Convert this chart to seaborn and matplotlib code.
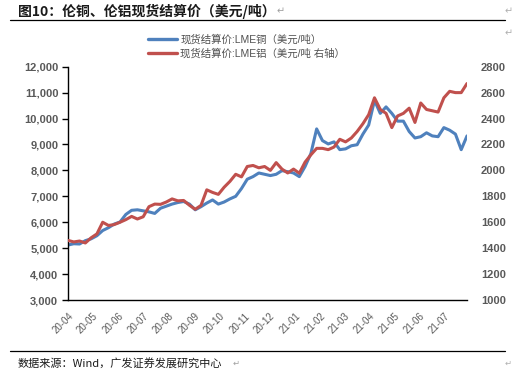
import numpy as np
import pandas as pd
import seaborn as sns
import matplotlib.pyplot as plt
from matplotlib.lines import Line2D

# weekly readings
dates = pd.date_range("2020-04-01", periods=70, freq="7D")

copper = [5120, 5170, 5160, 5290, 5360, 5480, 5680, 5790, 5930, 6010,
          6300, 6460, 6480, 6440, 6400, 6340, 6540, 6620, 6700, 6760,
          6800, 6700, 6480, 6600, 6740, 6860, 6700, 6780, 6900, 7000,
          7300, 7660, 7760, 7900, 7850, 7800, 7850, 7990, 7950, 7900,
          7760, 8150, 8650, 9600, 9150, 9020, 9100, 8800, 8830, 8950,
          8990, 9400, 9750, 10700, 10200, 10450, 10200, 9900, 9900, 9500,
          9250, 9300, 9450, 9330, 9300, 9650, 9550, 9400, 8800, 9330]

aluminium = [1460, 1448, 1455, 1440, 1480, 1510, 1600, 1575, 1582, 1600,
             1620, 1645, 1625, 1642, 1720, 1740, 1738, 1756, 1780, 1765,
             1768, 1731, 1700, 1730, 1850, 1830, 1815, 1870, 1915, 1970,
             1950, 2030, 2038, 2020, 2030, 2000, 2060, 2010, 1980, 2010,
             1978, 2064, 2120, 2170, 2170, 2160, 2180, 2240, 2220, 2250,
             2300, 2360, 2430, 2560, 2470, 2440, 2330, 2420, 2440, 2480,
             2370, 2520, 2470, 2460, 2450, 2560, 2610, 2600, 2600, 2670]

month_ticks = pd.date_range("2020-04-01", "2021-07-01", freq="MS")
month_labels = [d.strftime("%y-%m") for d in month_ticks]

cu_label = "现货结算价:LME铜（美元/吨）"
al_label = "现货结算价:LME铝（美元/吨 右轴）"
title = "图10：伦铜、伦铝现货结算价（美元/吨）"
source = "数据来源：Wind，广发证券发展研究中心"

blue = "#4F81BD"
red = "#C0504D"
grey = "#595959"

sns.set_theme(style="white")
plt.rcParams["font.family"] = ["Liberation Sans", "Noto Sans CJK SC", "DejaVu Sans"]

df = pd.DataFrame({"date": dates, "cu": copper, "al": aluminium})

fig = plt.figure(figsize=(5.14, 3.78), dpi=100)
ax = fig.add_axes([68 / 514, 1 - 300 / 378, 399 / 514, 233.3 / 378])
ax2 = ax.twinx()

sns.lineplot(data=df, x="date", y="cu", ax=ax, color=blue, lw=2.2, label=cu_label, legend=False)
sns.lineplot(data=df, x="date", y="al", ax=ax2, color=red, lw=2.2, label=al_label, legend=False)

ax.set_xlim(dates[0], dates[-1])
ax.set_ylim(3000, 12000)
ax2.set_ylim(1000, 2800)
ax.set_yticks(np.arange(3000, 12001, 1000))
ax.set_yticklabels([f"{v:,}" for v in range(3000, 12001, 1000)])
ax2.set_yticks(np.arange(1000, 2801, 200))
ax.set_xticks(month_ticks)
ax.set_xticklabels(month_labels, rotation=45, ha="right", rotation_mode="anchor")
ax.set_xlabel("")
ax.set_ylabel("")
ax2.set_ylabel("")

for s in ["top", "right"]:
    ax.spines[s].set_visible(False)
for s in ["top", "right", "left", "bottom"]:
    ax2.spines[s].set_visible(False)
ax.spines["left"].set_color("black")
ax.spines["bottom"].set_color("black")
ax.spines["left"].set_linewidth(1.0)
ax.spines["bottom"].set_linewidth(1.0)

ax.tick_params(axis="y", direction="out", length=4, width=1, color="black",
               labelsize=8, labelcolor=grey, pad=3)
ax.tick_params(axis="x", direction="out", length=4, width=1, color="black",
               labelsize=7, labelcolor=grey, pad=4)
ax2.tick_params(axis="y", length=0, labelsize=8, labelcolor=grey, pad=10)
for t in ax.get_yticklabels() + ax2.get_yticklabels():
    t.set_fontweight("bold")

handles = [Line2D([], [], color=blue, lw=2.4), Line2D([], [], color=red, lw=2.4)]
fig.legend(handles, [cu_label, al_label], loc="upper left",
           bbox_to_anchor=(148 / 514, 1 - 34 / 378), frameon=False,
           fontsize=7.5, labelcolor="#505050", handlelength=2.8,
           handletextpad=0.3, labelspacing=0.35, borderaxespad=0, borderpad=0)

fig.text(18 / 514, 1 - 11 / 378, title, fontsize=10, fontweight="bold",
         color="#1a1a1a", va="center", family=["Noto Sans CJK SC", "DejaVu Sans"])
fig.text(277 / 514, 1 - 11 / 378, "↵", fontsize=7, color="#a0a0a0", va="center",
         family=["DejaVu Sans"])
fig.text(505 / 514, 1 - 11 / 378, "↵", fontsize=7, color="#b0b0b0", va="center",
         family=["DejaVu Sans"])
fig.text(505 / 514, 1 - 33 / 378, "↵", fontsize=7, color="#b0b0b0", va="center",
         family=["DejaVu Sans"])
fig.text(18 / 514, 1 - 363 / 378, source, fontsize=8, color="#1a1a1a", va="center",
         family=["Noto Sans CJK SC", "DejaVu Sans"])
fig.text(233 / 514, 1 - 363 / 378, "↵", fontsize=6, color="#a0a0a0", va="center",
         family=["DejaVu Sans"])
fig.text(505 / 514, 1 - 363 / 378, "↵", fontsize=6, color="#b0b0b0", va="center",
         family=["DejaVu Sans"])
fig.add_artist(Line2D([10 / 514, 505 / 514], [1 - 20 / 378, 1 - 20 / 378], color="black", lw=0.9))
fig.add_artist(Line2D([10 / 514, 505 / 514], [1 - 351 / 378, 1 - 351 / 378], color="black", lw=0.9))

fig.savefig("out.png", dpi=100)
